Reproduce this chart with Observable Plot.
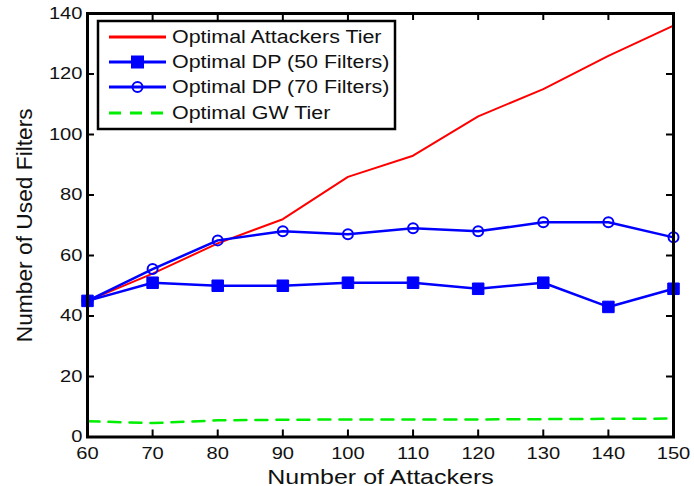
<!DOCTYPE html>
<html><head><meta charset="utf-8">
<script src="https://cdn.jsdelivr.net/npm/d3@7"></script>
<script src="https://cdn.jsdelivr.net/npm/@observablehq/plot@0.6"></script>
<style>
html,body{margin:0;padding:0;background:#fff;}
#chart{position:relative;width:694px;height:486px;overflow:hidden;}
#legend{position:absolute;left:0;top:0;}
</style></head><body><div id="chart"></div>
<script>
const attackers = [60, 70, 80, 90, 100, 110, 120, 130, 140, 150];
const attackersTier = [45, 54, 64, 72, 86, 93, 106, 115, 126, 136];
const dp50 = [45, 51, 50, 50, 51, 51, 49, 51, 43, 49];
const dp70 = [45, 55.5, 65, 68, 67, 69, 68, 71, 71, 66];
const gwTier = [5.2, 4.6, 5.5, 5.7, 5.8, 5.8, 5.8, 5.9, 6.0, 6.1];
const xTicks = [60, 70, 80, 90, 100, 110, 120, 130, 140, 150];
const yTicks = [0, 20, 40, 60, 80, 100, 120, 140];
const seriesNames = ["Optimal Attackers Tier", "Optimal DP (50 Filters)", "Optimal DP (70 Filters)", "Optimal GW Tier"];
const xLabel = "Number of Attackers";
const yLabel = "Number of Used Filters";

const font = "'Liberation Sans', Arial, Helvetica, sans-serif";
const blue = "#0000ff", red = "#ff0000", green = "#00ee00";
const pts = vals => attackers.map((x, i) => ({x, y: vals[i]}));

const W = 694, H = 486, mL = 87, mR = 21, mT = 13, mB = 49.5;
const innerW = W - mL - mR, innerH = H - mT - mB, tick = 7;

const plot = Plot.plot({
  width: W, height: H,
  marginLeft: mL, marginRight: mR, marginTop: mT, marginBottom: mB,
  style: {fontFamily: font, background: "white", color: "#111"},
  x: {domain: [60, 150]},
  y: {domain: [0, 140]},
  marks: [
    Plot.line(pts(attackersTier), {x: "x", y: "y", stroke: red, strokeWidth: 2}),
    Plot.line(pts(dp50), {x: "x", y: "y", stroke: blue, strokeWidth: 2.5}),
    Plot.dot(pts(dp50), {x: "x", y: "y", symbol: "square", r: 6.5, fill: blue, stroke: blue, strokeWidth: 1}),
    Plot.line(pts(dp70), {x: "x", y: "y", stroke: blue, strokeWidth: 2.5}),
    Plot.dot(pts(dp70), {x: "x", y: "y", r: 5, fill: "none", stroke: blue, strokeWidth: 2}),
    Plot.line(pts(gwTier), {x: "x", y: "y", stroke: green, strokeWidth: 2.5, strokeDasharray: "12,9"}),
    Plot.axisX(xTicks, {anchor: "bottom", tickSize: 0, tickPadding: 10, label: null, fontSize: 16.5, fill: "#111"}),
    Plot.axisY(yTicks, {anchor: "left", tickSize: 0, tickPadding: 5, label: null, fontSize: 16.5, fill: "#111"}),
    // inward ticks on all four sides
    Plot.tickX(xTicks, {x: d => d, insetTop: innerH - tick, stroke: "black", strokeWidth: 2}),
    Plot.tickX(xTicks, {x: d => d, insetBottom: innerH - tick, stroke: "black", strokeWidth: 2}),
    Plot.tickY(yTicks, {y: d => d, insetRight: innerW - tick, stroke: "black", strokeWidth: 2}),
    Plot.tickY(yTicks, {y: d => d, insetLeft: innerW - tick, stroke: "black", strokeWidth: 2}),
    Plot.text([xLabel], {text: d => d, frameAnchor: "bottom", dy: 46.5, lineAnchor: "bottom", textAnchor: "middle", fontSize: 21, fill: "#111"}),
    Plot.text([yLabel], {text: d => d, frameAnchor: "left", dx: -62.5, rotate: -90, lineAnchor: "middle", textAnchor: "middle", fontSize: 22, fill: "#111"}),
    Plot.frame({stroke: "black", strokeWidth: 3})
  ]
});
const chart = document.getElementById("chart");
chart.appendChild(plot);

// legend overlay
const leg = d3.select(chart).append("svg").attr("id", "legend").attr("width", W).attr("height", H);
leg.append("rect").attr("x", 98).attr("y", 21).attr("width", 297).attr("height", 108)
  .attr("fill", "white").attr("stroke", "black").attr("stroke-width", 2.5);
const rowsY = [37, 62, 87, 113];
const styles = [
  {stroke: red, w: 3, dash: null, marker: null},
  {stroke: blue, w: 3, dash: null, marker: "square"},
  {stroke: blue, w: 3, dash: null, marker: "circle"},
  {stroke: green, w: 3, dash: "12,9", marker: null}
];
seriesNames.forEach((name, i) => {
  const y = rowsY[i], s = styles[i];
  const ln = leg.append("line").attr("x1", 109).attr("x2", 166).attr("y1", y).attr("y2", y)
    .attr("stroke", s.stroke).attr("stroke-width", s.w);
  if (s.dash) ln.attr("stroke-dasharray", s.dash);
  if (s.marker === "square") leg.append("rect").attr("x", 131).attr("y", y - 6.5).attr("width", 13).attr("height", 13).attr("fill", blue);
  if (s.marker === "circle") leg.append("circle").attr("cx", 137.5).attr("cy", y).attr("r", 5).attr("fill", "none").attr("stroke", blue).attr("stroke-width", 2);
  leg.append("text").attr("x", 172).attr("y", y + 6.3).attr("font-family", font).attr("font-size", 18)
    .attr("fill", "#111").attr("class", "legtext").text(name);
});

function stretch(nodes, f, fixed) {
  nodes.forEach(t => {
    if (!t.textContent) return;
    const w = t.getComputedTextLength();
    t.setAttribute("textLength", fixed ? fixed : w * f);
    t.setAttribute("lengthAdjust", "spacingAndGlyphs");
  });
}
stretch(plot.querySelectorAll('[aria-label="x-axis tick label"] text, [aria-label="y-axis tick label"] text'), 1.22);
const texts = plot.querySelectorAll('[aria-label="text"] text');
stretch([texts[0]], 1.19);
stretch([texts[1]], 1, 234);
stretch(leg.node().querySelectorAll(".legtext"), 1.19);
</script></body></html>
